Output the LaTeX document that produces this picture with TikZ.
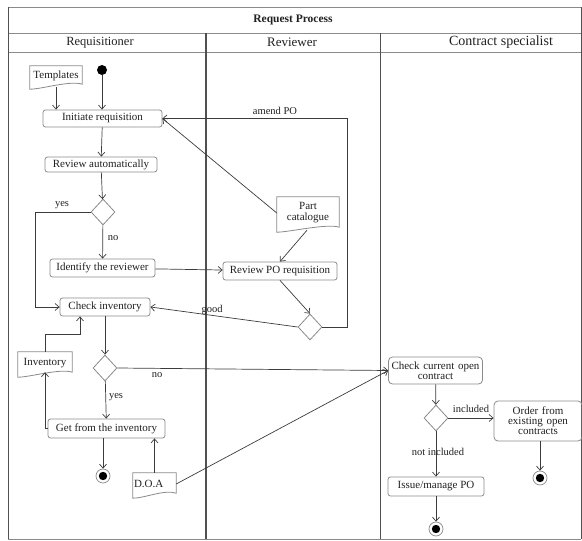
\documentclass[tikz,border=0pt]{standalone}
\usepackage{fontspec}
\setmainfont{Liberation Serif}
\usetikzlibrary{arrows.meta,shapes.geometric,calc}

\definecolor{edgegray}{HTML}{3C3C3C}
\definecolor{boxgray}{HTML}{8A8A8A}
\definecolor{lanegray}{HTML}{505050}
\definecolor{inkgray}{HTML}{202020}

\tikzset{
  x={(1pt,0)}, y={(0,-1pt)},
  every node/.style={font=\fontsize{11}{12}\selectfont, text=inkgray},
  act/.style={draw=boxgray, line width=0.8pt, rounded corners=2.5pt,
    inner sep=0.5pt, align=center},
  dec/.style={draw=boxgray, line width=0.8pt, diamond, fill=white,
    minimum width=24pt, minimum height=26pt, inner sep=0pt, aspect=0.92},
  docnode/.style={inner sep=0.5pt, align=center},
  flow/.style={draw=edgegray, line width=0.7pt,
    -{Straight Barb[length=4pt,width=7pt,line width=0.7pt]}},
  lbl/.style={font=\fontsize{10.5}{11}\selectfont},
  startdot/.style={circle, fill=black, minimum size=10pt, inner sep=0pt},
  enddot/.style={circle, draw=boxgray, line width=0.7pt, fill=white,
    minimum size=14pt, inner sep=0pt,
    path picture={\fill[black] (path picture bounding box.center) circle (4.2pt);}},
}

% note with a wavy lower edge, drawn round a named node
\newcommand\docframe[1]{%
  \draw[boxgray, line width=0.8pt]
    (#1.north west) -- (#1.north east) -- ([yshift=2pt]#1.south east)
    .. controls ([xshift=-12pt,yshift=6pt]#1.south east)
       and ([xshift=12pt,yshift=-3pt]#1.south west) ..
    ([yshift=-3pt]#1.south west) -- cycle;}

\begin{document}
\begin{tikzpicture}
\useasboundingbox (0,0) rectangle (582,541);

% swimlane frame
\draw[boxgray, line width=0.7pt] (8,7) -- (581,7);
\draw[boxgray, line width=0.7pt] (8,33) -- (581,33);
\draw[boxgray, line width=0.7pt] (8,52) -- (581,52);
\draw[boxgray, line width=0.7pt] (8,539) -- (581,539);
\draw[lanegray, line width=0.8pt] (8,7) -- (8,539);
\draw[lanegray, line width=0.8pt] (581,7) -- (581,539);
\draw[lanegray, line width=1.1pt] (206,33) -- (206,539);
\draw[lanegray, line width=0.8pt] (380,33) -- (380,539);

\node[font=\bfseries\fontsize{11.5}{12}\selectfont] (title) at (293,20) {Request Process};
\node[font=\fontsize{12.5}{13}\selectfont] (h1) at (100,42.5) {Requisitioner};
\node[font=\fontsize{13}{14}\selectfont] (h2) at (292,42.5) {Reviewer};
\node[font=\fontsize{14}{15}\selectfont] (h3) at (501,42.5) {Contract specialist};

% Requisitioner lane
\node[startdot] (start) at (102,70) {};
\node[docnode, minimum width=52pt, minimum height=20pt] (tmpl) at (56,76) {Templates};
\node[act, minimum width=119pt, minimum height=17pt] (init) at (102.5,118.5) {Initiate requisition};
\node[act, minimum width=112pt, minimum height=15pt] (revauto) at (101,164.5) {Review automatically};
\node[dec] (d1) at (103,212) {};
\node[act, minimum width=105pt, minimum height=18pt] (ident) at (102.5,268) {Identify the reviewer};
\node[act, minimum width=90pt, minimum height=18pt] (check) at (105,307) {Check inventory};
\node[dec] (d2) at (105,368) {};
\node[docnode, minimum width=54pt, minimum height=22pt] (inv) at (45,363) {Inventory};
\node[act, minimum width=117pt, minimum height=19pt] (getinv) at (106.5,428.5) {Get from the inventory};
\node[enddot] (f1) at (103,476) {};
\node[docnode, minimum width=43pt, minimum height=22pt, text width=41pt, align=left] (doa) at (154.5,484) {D.O.A\\[3pt]};

% Reviewer lane
\node[docnode, minimum width=62pt, minimum height=32pt] (part) at (308,213) {Part\\[-1pt]catalogue};
\node[act, minimum width=114pt, minimum height=18pt] (revpo) at (280,271) {Review PO requisition};
\node[dec] (d3) at (310,327) {};

% Contract specialist lane
\node[act, minimum width=94pt, minimum height=27pt, text width=93pt, rounded corners=4pt] (checkc) at (435.5,370.5) {Check current open\\[-2pt]contract};
\node[dec] (d4) at (436,418) {};
\node[act, minimum width=88pt, minimum height=40pt, text width=87pt, rounded corners=4pt] (order) at (538,421) {Order from\\[-2pt]existing open\\[-2pt]contracts};
\node[act, minimum width=96pt, minimum height=19pt] (issue) at (436,486.5) {Issue/manage PO};
\node[enddot] (f2) at (540,478) {};
\node[enddot] (f3) at (436,529) {};

\docframe{tmpl}
\docframe{inv}
\docframe{doa}
\docframe{part}

% connectors
\path[flow] (start) -- (start |- init.north);
\path[flow] (tmpl.south) ++(0,1) -- (tmpl.south |- init.north);
\path[flow] (init) -- (revauto);
\path[flow] (revauto) -- (d1);
\path[flow] (d1.west) -- (35,212) |- (check.west);
\node[lbl] (lyes1) at (62,205) {yes};
\path[flow] (d1) -- (ident);
\node[lbl] (lno1) at (113,238) {no};
\path[flow] (ident) -- (revpo);
\path[flow] (check) -- (d2);
\coordinate (cw) at (checkc.west);
\path[flow] (d2.east) -- (cw);
\node[lbl] (lno2) at (157,375) {no};
\path[flow] (d2) -- (getinv);
\node[lbl] (lyes2) at (116,397) {yes};
\path[flow] (getinv.south -| f1) -- (f1);
\path[flow] (getinv.west) -| ([yshift=2pt]inv.south);
\path[flow] (inv.north) |- (80,334) -- ([xshift=-25pt]check.south);
\path[flow] (doa.north) -- (doa.north |- getinv.south);
\path[flow] (doa.east) -- (cw);

\path[flow] (part.west) -- (init.east);
\path[flow] ([xshift=-1pt]part.south) ++(0,1) -- (revpo.north);
\path[flow] (revpo.south) -- (d3.north);
\path[flow] (d3.west) -- (check.east);
\node[lbl] (lgood) at (212,310) {good};
\path[flow] (d3.east) -- (347,327) |- (init.east);
\node[lbl] (lamend) at (275,111) {amend PO};

\path[flow] (checkc) -- (d4);
\path[flow] (d4.east) -- (order.west |- d4.east);
\node[lbl] (linc) at (471,409) {included};
\path[flow] (d4) -- (issue);
\node[lbl] (lninc) at (438,452) {not included};
\path[flow] (order.south -| f2) -- (f2);
\path[flow] (issue.south -| f3) -- (f3);
\end{tikzpicture}
\end{document}
